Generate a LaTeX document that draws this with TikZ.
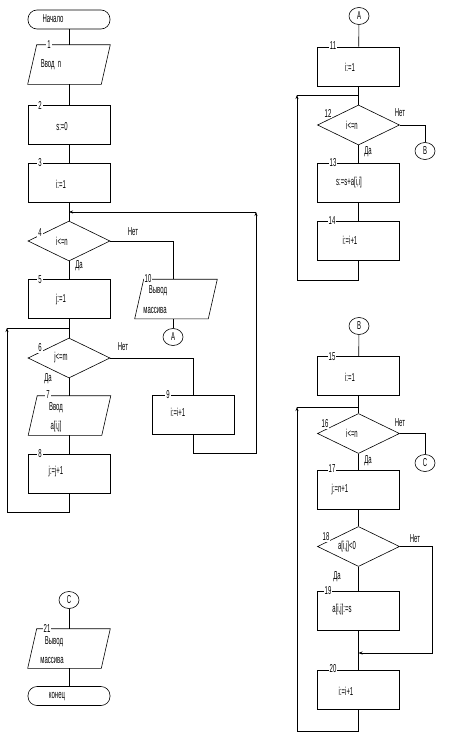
\documentclass[tikz,border=0pt]{standalone}
\usepackage{fontspec}
\setmainfont{Liberation Sans}[FakeStretch=0.52]
\usetikzlibrary{shapes.geometric,arrows.meta,calc}
\newcommand\drawpgram[1]{\draw ($(#1.north west)+(4.5,0)$) -- ($(#1.north east)+(4.5,0)$) -- ($(#1.south east)+(-4.5,0)$) -- ($(#1.south west)+(-4.5,0)$) -- cycle;}
\begin{document}
\begin{tikzpicture}[x=1pt,y=-1pt,
  every node/.style={font=\fontsize{11.5}{12}\selectfont},
  proc/.style={draw,rectangle,minimum width=82pt,minimum height=39pt,inner sep=0pt},
  io/.style={rectangle,minimum width=73pt,minimum height=39pt,inner sep=0pt},
  dec/.style={draw,diamond,minimum width=82pt,minimum height=40pt,inner sep=0pt},
  term/.style={draw,rectangle,rounded corners=9pt,minimum width=82pt,minimum height=19pt,inner sep=0pt},
  conn/.style={draw,ellipse,minimum width=20pt,minimum height=17pt,inner sep=0pt},
  num/.style={fill=white,inner sep=1pt},
  txt/.style={inner sep=0pt},
  tip/.style={-{Stealth[length=4pt,width=3pt]}}
]
\tikzset{every path/.style={line width=0.6pt}}
\useasboundingbox (0,0) rectangle (469,744);
% ---------- left column ----------
\node[term] (start) at (69,19.5) {};
\node[io] (io1) at (69,64.5) {};
\node[proc] (p2) at (69,124.5) {};
\node[proc] (p3) at (69,182.5) {};
\node[dec] (d4) at (69,241) {};
\node[proc] (p5) at (69,299) {};
\node[dec] (d6) at (69,358) {};
\node[io] (io7) at (69.5,415.5) {};
\node[proc] (p8) at (69,473.5) {};
\node[proc] (p9) at (193.5,415) {};
\node[io] (io10) at (176,299) {};
\node[conn] (cA1) at (173,337) {A};
\node[conn] (cC2) at (69,600) {C};
\node[io] (io21) at (69,648.5) {};
\node[term] (end) at (69,696) {};
\drawpgram{io1}
\drawpgram{io7}
\drawpgram{io10}
\drawpgram{io21}
\coordinate (jI) at (69,212);
\coordinate (rI) at (256,453);
\coordinate (jJ) at (69,328);
\coordinate (lJ) at (7,512);
% ---------- right column ----------
\node[conn] (cA2) at (359,16) {A};
\node[proc] (p11) at (358.5,66.5) {};
\node[dec] (d12) at (358.5,125) {};
\node[conn] (cB1) at (425,151) {B};
\node[proc] (p13) at (358.5,182.5) {};
\node[proc] (p14) at (358.5,240.5) {};
\node[conn] (cB2) at (359,326) {B};
\node[proc] (p15) at (358.5,376) {};
\node[dec] (d16) at (358.5,433.5) {};
\node[conn] (cC1) at (425,463) {C};
\node[proc] (p17) at (358.5,489.5) {};
\node[dec] (d18) at (358.5,546.5) {};
\node[proc] (p19) at (358.5,610.5) {};
\node[proc] (p20) at (358.5,689.5) {};
\coordinate (jK) at (358.5,95);
\coordinate (lK) at (297,280);
\coordinate (jL) at (358.5,407);
\coordinate (lL) at (297,731);
\coordinate (rN) at (432,653);
% ---------- connectors left ----------
\draw (start) -- (io1);
\draw (io1) -- (p2);
\draw (p2) -- (p3);
\draw (p3) -- (d4);
\draw (d4.east) -| ($(io10.north)+(-3,0)$);
\draw ($(io10.south)+(-3,0)$) -- (cA1);
\draw (d4) -- (p5);
\draw (p5) -- (d6);
\draw (d6.east) -| (p9.north);
\draw (d6.south) -- (d6.south |- io7.north);
\draw (d6.south |- io7.south) -- (p8.north);
\draw[tip] (p9.south) |- (rI) -- (rI |- jI);
\draw[tip] (rI |- jI) -- (jI);
\draw[tip] (p8.south) |- (lJ) -- (lJ |- jJ);
\draw (lJ |- jJ) -- (jJ);
\draw (cC2) -- (io21);
\draw (io21) -- (end);
% ---------- connectors right ----------
\draw (cA2) -- (p11);
\draw (p11) -- (d12);
\draw (d12.east) -| (cB1.north);
\draw (d12) -- (p13);
\draw (p13) -- (p14);
\draw[tip] (p14.south) |- (lK) -- (lK |- jK);
\draw (lK |- jK) -- (jK);
\draw (cB2) -- (p15);
\draw (p15) -- (d16);
\draw (d16.east) -| (cC1.north);
\draw (d16) -- (p17);
\draw (p17) -- (d18);
\draw (d18) -- (p19);
\draw (p19) -- (p20);
\draw[tip] (d18.east) -| (rN) -- (rN -| p19.south);
\draw[tip] (p20.south) |- (lL) -- (lL |- jL);
\draw (lL |- jL) -- (jL);
% ---------- numbers ----------
\node[num] (n1) at (49,45) {1};
\node[num] (n2) at (40,105) {2};
\node[num] (n3) at (40,163) {3};
\node[num] (n4) at (40,233) {4};
\node[num] (n5) at (40,280) {5};
\node[num] (n6) at (40,348) {6};
\node[num] (n7) at (48,395) {7};
\node[num] (n8) at (40,454) {8};
\node[num] (n9) at (168,395) {9};
\node[num] (n10) at (148,279) {10};
\node[num] (n21) at (47,628) {21};
\node[num] (n11) at (333,46) {11};
\node[num] (n12) at (328,113) {12};
\node[num] (n13) at (333,163) {13};
\node[num] (n14) at (332,221) {14};
\node[num] (n15) at (332,357) {15};
\node[num] (n16) at (325,424) {16};
\node[num] (n17) at (332,469) {17};
\node[num] (n18) at (326,537) {18};
\node[num] (n19) at (328,591) {19};
\node[num] (n20) at (333,669) {20};
% ---------- texts ----------
\node[txt] (t0) at (53,19) {Начало};
\node[txt] (t1) at (51,65) {Ввод\ \ n};
\node[txt] (t2) at (62,127) {s:=0};
\node[txt] (t3) at (61,184) {i:=1};
\node[txt] (t4) at (62,241) {i<=n};
\node[txt] (t5) at (61,300) {j:=1};
\node[txt] (t6) at (61,358) {j<=m};
\node[txt] (t7a) at (56,408) {Ввод};
\node[txt] (t7b) at (56,427) {a[i,j]};
\node[txt] (t8) at (56,472) {j:=j+1};
\node[txt] (t9) at (178,412) {i:=i+1};
\node[txt] (t10a) at (158,291) {Вывод};
\node[txt] (t10b) at (155,310) {массива};
\node[txt] (y4) at (79,266) {Да};
\node[txt] (no4) at (133,232) {Нет};
\node[txt] (y6) at (48,379) {Да};
\node[txt] (no6) at (123,347) {Нет};
\node[txt] (t21a) at (54,642) {Вывод};
\node[txt] (t21b) at (52,660) {массива};
\node[txt] (tend) at (57,697) {конец};
\node[txt] (t11) at (350,67) {i:=1};
\node[txt] (t12) at (352,125) {i<=n};
\node[txt] (no12) at (400,113) {Нет};
\node[txt] (y12) at (368,152) {Да};
\node[txt] (t13) at (349,183) {s:=s+a[i,i]};
\node[txt] (t14) at (350,240) {i:=i+1};
\node[txt] (t15) at (350,377) {i:=1};
\node[txt] (t16) at (352,433) {i<=n};
\node[txt] (no16) at (400,423) {Нет};
\node[txt] (y16) at (368,461) {Да};
\node[txt] (t17) at (340,490) {j:=n+1};
\node[txt] (t18) at (347,547) {a[i,j]<0};
\node[txt] (no18) at (415,539) {Нет};
\node[txt] (y18) at (337,577) {Да};
\node[txt] (t19) at (342,610) {a[i,j]:=s};
\node[txt] (t20) at (346,691) {i:=i+1};
\end{tikzpicture}
\end{document}
